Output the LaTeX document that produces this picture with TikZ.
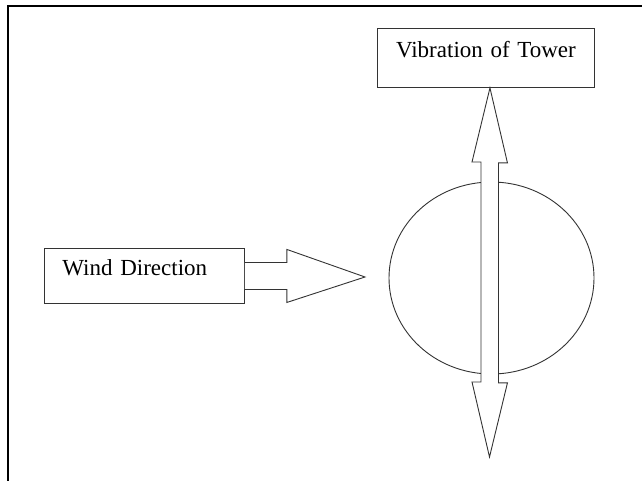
\documentclass[tikz,border=0pt]{standalone}
\usepackage{fontspec}
\setmainfont{Liberation Serif}
\usetikzlibrary{shapes.geometric,calc}

\begin{document}
\begin{tikzpicture}[x=1pt, y=-1pt,
    labelbox/.style={draw=black!80, line width=0.9pt, inner ysep=0pt,
      text height=16pt, text depth=16pt, font=\fontsize{23}{26}\selectfont},
    blockarrow/.style={draw=black!80, line width=0.9pt, fill=white, line join=miter}]
  \useasboundingbox (0,0) rectangle (642,481);
  % frame, cut off at right and bottom
  \draw[line width=2pt] (8,481) -- (8,6) -- (642,6);

  \node[labelbox, anchor=north west, minimum height=59pt, text width=185pt,
    inner xsep=16pt, align=center] (vib) at (377,28) {Vibration of Tower};
  \node[labelbox, anchor=north west, minimum height=55pt, text width=164pt,
    inner xsep=18pt, align=left] (wind) at (44,248) {Wind Direction};

  \node[ellipse, draw=black!80, line width=0.9pt, minimum width=205pt,
    minimum height=192pt, inner sep=0pt] (tower) at (491.5,278) {};

  % wind arrow
  \coordinate (windtip) at (365,277);
  \draw[blockarrow] ($(wind.east)+(0,-13.5)$) -- ++(42,0) -- ++(0,-13)
    -- (windtip) -- ($(wind.east)+(42,26.5)$) -- ++(0,-13)
    -- ($(wind.east)+(0,13.5)$);

  % vibration arrow
  \coordinate (swaytop) at ($(vib.south)+(4,0)$);
  \coordinate (swaybot) at (489.5,457);
  \draw[blockarrow] (swaytop) -- ++(17.5,75) -- ++(-9,0) -- ++(0,220)
    -- ++(9,0) -- (swaybot) -- ++(-17.5,-75) -- ++(9,0) -- ++(0,-220)
    -- ++(-9,0) -- cycle;
\end{tikzpicture}
\end{document}
